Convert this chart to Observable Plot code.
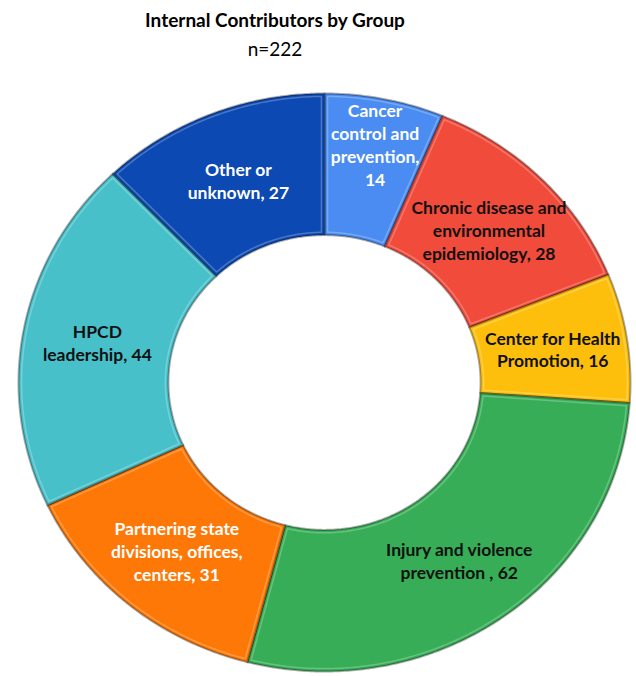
<!DOCTYPE html>
<html><head><meta charset="utf-8">
<script src="https://cdn.jsdelivr.net/npm/d3@7"></script>
<script src="https://cdn.jsdelivr.net/npm/@observablehq/plot@0.6"></script>
<style>
body{margin:0;background:#fff;font-family:Lato,"Noto Sans",sans-serif;}
#wrap{position:relative;width:636px;height:676px;overflow:hidden;}
#title{position:absolute;left:0;width:550px;top:8px;text-align:center;font-weight:700;font-size:19px;line-height:24px;color:#000;}
#sub{position:absolute;left:0;width:550px;top:37px;text-align:center;font-size:19px;line-height:24px;color:#000;}
#chart{position:absolute;left:0;top:70px;}
</style></head><body>
<div id="wrap"><div id="title">Internal Contributors by Group</div><div id="sub">n=222</div><div id="chart"></div></div>
<script>
const groups = ["Cancer control and prevention","Chronic disease and environmental epidemiology","Center for Health Promotion","Injury and violence prevention","Partnering state divisions, offices, centers","HPCD leadership","Other or unknown"];
const counts = [14, 28, 16, 62, 31, 44, 27];
const labelNames = ["Cancer\ncontrol and\nprevention","Chronic disease and\nenvironmental\nepidemiology","Center for Health\nPromotion","Injury and violence\nprevention ","Partnering state\ndivisions, offices,\ncenters","HPCD\nleadership","Other or\nunknown"];
const labelSeps = [",\n", ", ", ", ", ", ", ", ", ", ", ", "];
const palette = ["#4a8cf2","#f04b3b","#fdbf0c","#36ad56","#fd7806","#48c0ca","#0d49b2"];
const lightText = ["Cancer control and prevention","Partnering state divisions, offices, centers","Other or unknown"];

const total = d3.sum(counts);
const inner = 0.51;
let acc = 0;
const slices = groups.map((g, i) => {
  const a0 = acc / total * 2 * Math.PI; acc += counts[i];
  const a1 = acc / total * 2 * Math.PI;
  const label = labelNames[i] + labelSeps[i] + counts[i];
  return {group: g, count: counts[i], a0, a1, mid: (a0 + a1) / 2, label, lines: label.split("\n").length};
});
const px = 297; // approx pixels per unit radius, used for insets
function poly(s, inset) {
  const pts = [];
  const rOut = 1 - inset / px, rIn = inner + inset / px;
  const oa0 = s.a0 + inset / (px * rOut), oa1 = s.a1 - inset / (px * rOut);
  const ia0 = s.a0 + inset / (px * rIn), ia1 = s.a1 - inset / (px * rIn);
  const n = Math.max(4, Math.ceil((s.a1 - s.a0) / (Math.PI / 360)));
  for (let k = 0; k <= n; k++) { const a = oa0 + (oa1 - oa0) * k / n; pts.push({group: s.group, x: rOut * Math.sin(a), y: rOut * Math.cos(a)}); }
  for (let k = n; k >= 0; k--) { const a = ia0 + (ia1 - ia0) * k / n; pts.push({group: s.group, x: rIn * Math.sin(a), y: rIn * Math.cos(a)}); }
  return pts;
}
const ringPts = slices.flatMap(s => poly(s, 0));
const hiPts = slices.flatMap(s => poly(s, 3));
const lr = d => d.lines > 3 ? 0.84 : 0.755;
const textOpts = {
  x: d => lr(d) * Math.sin(d.mid), y: d => lr(d) * Math.cos(d.mid), text: "label",
  fontWeight: 700, fontSize: 17.5, lineHeight: 1.31, fontFamily: "Lato"
};
const chart = Plot.plot({
  width: 636, height: 606, margin: 0,
  x: {domain: [-1, 1], range: [18, 630], axis: null},
  y: {domain: [-1, 1], range: [601, 23], axis: null},
  color: {domain: groups, range: palette},
  marks: [
    Plot.line(ringPts, {x: "x", y: "y", z: "group", fill: "group", stroke: "rgba(0,0,0,0.32)", strokeWidth: 2, curve: "linear-closed"}),
    Plot.line(hiPts, {x: "x", y: "y", z: "group", stroke: "rgba(255,255,255,0.25)", strokeWidth: 1.5, curve: "linear-closed"}),
    Plot.text(slices.filter(d => !lightText.includes(d.group)), {...textOpts, fill: "#111"}),
    Plot.text(slices.filter(d => lightText.includes(d.group)), {...textOpts, fill: "#fff"})
  ]
});
document.getElementById("chart").appendChild(chart);
</script>
</body></html>
